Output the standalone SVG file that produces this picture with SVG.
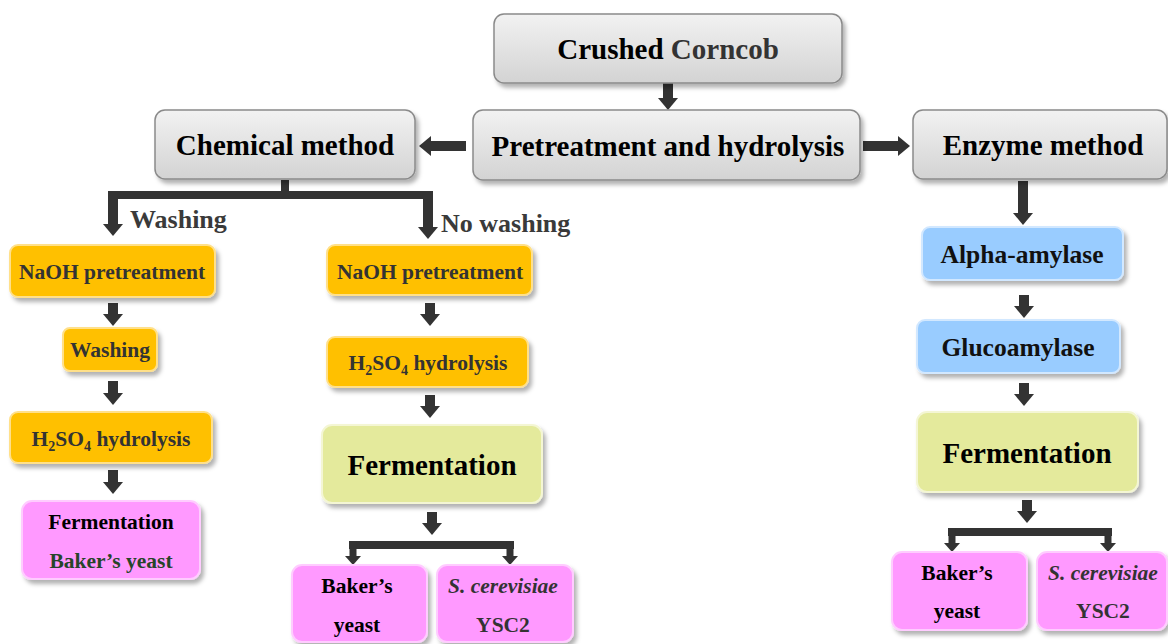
<svg xmlns="http://www.w3.org/2000/svg" width="1168" height="644" viewBox="0 0 1168 644">
<defs>
<linearGradient id="gGray" x1="0" y1="0" x2="0" y2="1">
<stop offset="0" stop-color="#f2f2f2"/><stop offset="1" stop-color="#d3d3d3"/>
</linearGradient>
<filter id="sh" x="-10%" y="-10%" width="130%" height="140%">
<feDropShadow dx="3" dy="4" stdDeviation="2" flood-color="#000" flood-opacity="0.3"/>
</filter>
<marker id="ah" markerUnits="userSpaceOnUse" markerWidth="12" markerHeight="20" refX="0" refY="10" orient="auto" viewBox="0 0 12 20">
<path d="M0,0 L12,10 L0,20 Z" fill="#333"/>
</marker>
<marker id="ahs" markerUnits="userSpaceOnUse" markerWidth="9" markerHeight="16" refX="0" refY="8" orient="auto" viewBox="0 0 9 16">
<path d="M0,0 L9,8 L0,16 Z" fill="#333"/>
</marker>
</defs>
<style>
text{font-weight:bold;text-anchor:middle}
.gray{fill:url(#gGray);stroke:#8a8a8a;stroke-width:1.5;filter:url(#sh)}
.org{fill:#FFC000;stroke:#FFE08A;stroke-width:2;filter:url(#sh)}
.pink{fill:#FF99FF;stroke:#FFCCFF;stroke-width:2;filter:url(#sh)}
.blue{fill:#99CCFF;stroke:#D2E8FF;stroke-width:2;filter:url(#sh)}
.grn{fill:#E4EA9C;stroke:#F4F6D4;stroke-width:2;filter:url(#sh)}
.big{font-size:29px;fill:#000}
.mid{font-size:25.5px;fill:#111}
.sm{font-size:21.5px;fill:#333}
.lab{font-size:26px;fill:#3a3a3a;text-anchor:start}
.arr{stroke:#333;stroke-width:10;fill:none;marker-end:url(#ah)}
.brk{stroke:#333;stroke-width:8;fill:none}
.arrs{stroke:#333;stroke-width:7;fill:none;marker-end:url(#ahs)}
</style>

<g id="connectors">
<line class="arr" x1="668" y1="83" x2="668" y2="98"/>
<line class="arr" x1="466" y1="146" x2="431" y2="146"/>
<line class="arr" x1="863" y1="146" x2="898" y2="146"/>
<path class="brk" d="M285,180 V195 M109,195 H432"/>
<line class="arr" x1="113" y1="191" x2="113" y2="224"/>
<line class="arr" x1="428" y1="191" x2="428" y2="227"/>
<line class="arr" x1="113" y1="303" x2="113" y2="314"/>
<line class="arr" x1="113" y1="381" x2="113" y2="393"/>
<line class="arr" x1="113" y1="470" x2="113" y2="482"/>
<line class="arr" x1="430" y1="303" x2="430" y2="314"/>
<line class="arr" x1="430" y1="395" x2="430" y2="406"/>
<line class="arr" x1="432" y1="512" x2="432" y2="523"/>
<path class="brk" d="M349,545 H514"/>
<line class="arrs" x1="353" y1="541" x2="353" y2="556"/>
<line class="arrs" x1="510" y1="541" x2="510" y2="556"/>
<line class="arr" x1="1023" y1="181" x2="1023" y2="213"/>
<line class="arr" x1="1024" y1="295" x2="1024" y2="306"/>
<line class="arr" x1="1024" y1="383" x2="1024" y2="394"/>
<line class="arr" x1="1027" y1="500" x2="1027" y2="511"/>
<path class="brk" d="M948,532 H1112"/>
<line class="arrs" x1="952" y1="528" x2="952" y2="543"/>
<line class="arrs" x1="1108" y1="528" x2="1108" y2="543"/>
</g>

<g font-family="'Liberation Serif', 'DejaVu Serif', 'Times New Roman', serif">
<text class="lab" x="130" y="228">Washing</text>
<text class="lab" x="441" y="232">No washing</text>

<g id="crushed">
<rect class="gray" x="494" y="14" width="348" height="69" rx="10"/>
<text class="big" x="668" y="59">Crushed <tspan fill="#333">Corncob</tspan></text>
</g>
<g id="pretreat">
<rect class="gray" x="473" y="110" width="387" height="70" rx="10"/>
<text class="big" x="668" y="156">Pretreatment and hydrolysis</text>
</g>
<g id="chemical">
<rect class="gray" x="155" y="110" width="260" height="69" rx="10"/>
<text class="big" x="285" y="155">Chemical method</text>
</g>
<g id="enzyme">
<rect class="gray" x="913" y="110" width="254" height="69" rx="10"/>
<text class="big" x="1043" y="155">Enzyme method</text>
</g>

<g id="naoh1">
<rect class="org" x="10" y="245" width="205" height="52" rx="8"/>
<text class="sm" x="112" y="279">NaOH pretreatment</text>
</g>
<g id="wash1">
<rect class="org" x="63" y="328" width="94" height="43" rx="7"/>
<text class="sm" x="110" y="357">Washing</text>
</g>
<g id="h2so4a">
<rect class="org" x="10" y="412" width="202" height="51" rx="8"/>
<text class="sm" x="111" y="446">H<tspan dy="5" font-size="14">2</tspan><tspan dy="-5">SO</tspan><tspan dy="5" font-size="14">4</tspan><tspan dy="-5"> hydrolysis</tspan></text>
</g>
<g id="ferm1">
<rect class="pink" x="22" y="501" width="178" height="78" rx="10"/>
<text class="sm" x="111" y="529" style="fill:#000">Fermentation</text>
<text class="sm" x="111" y="568" style="fill:#27452a">Baker’s yeast</text>
</g>

<g id="naoh2">
<rect class="org" x="327" y="245" width="205" height="50" rx="8"/>
<text class="sm" x="430" y="279">NaOH pretreatment</text>
</g>
<g id="h2so4b">
<rect class="org" x="327" y="337" width="201" height="50" rx="8"/>
<text class="sm" x="428" y="370">H<tspan dy="5" font-size="14">2</tspan><tspan dy="-5">SO</tspan><tspan dy="5" font-size="14">4</tspan><tspan dy="-5">  hydrolysis</tspan></text>
</g>
<g id="ferm2">
<rect class="grn" x="322" y="425" width="220" height="78" rx="10"/>
<text class="big" x="432" y="475">Fermentation</text>
</g>
<g id="baker2">
<rect class="pink" x="292" y="565" width="135" height="77" rx="10"/>
<text class="sm" x="357" y="593" style="fill:#000">Baker’s</text>
<text class="sm" x="357" y="632" style="fill:#000">yeast</text>
</g>
<g id="scer2">
<rect class="pink" x="437" y="565" width="136" height="77" rx="10"/>
<text class="sm" x="503" y="593" font-style="italic">S. cerevisiae</text>
<text class="sm" x="503" y="632">YSC2</text>
</g>

<g id="alpha">
<rect class="blue" x="922" y="227" width="201" height="53" rx="8"/>
<text class="mid" x="1022" y="263">Alpha-amylase</text>
</g>
<g id="gluco">
<rect class="blue" x="917" y="320" width="203" height="53" rx="8"/>
<text class="mid" x="1018" y="356">Glucoamylase</text>
</g>
<g id="ferm3">
<rect class="grn" x="917" y="412" width="221" height="80" rx="10"/>
<text class="big" x="1027" y="463">Fermentation</text>
</g>
<g id="baker3">
<rect class="pink" x="892" y="552" width="135" height="78" rx="10"/>
<text class="sm" x="957" y="580" style="fill:#000">Baker’s</text>
<text class="sm" x="957" y="618" style="fill:#000">yeast</text>
</g>
<g id="scer3">
<rect class="pink" x="1037" y="552" width="130" height="78" rx="10"/>
<text class="sm" x="1103" y="580" font-style="italic">S. cerevisiae</text>
<text class="sm" x="1103" y="618">YSC2</text>
</g>
</g>
</svg>
